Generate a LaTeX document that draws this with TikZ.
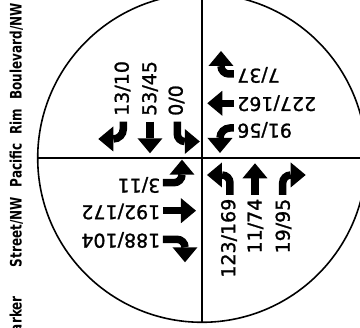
\documentclass[tikz,border=0pt]{standalone}
\usepackage{fontspec}
\setmainfont{DejaVu Sans}
\newfontfamily\volfont[FakeBold=1.2]{DejaVu Sans}
\newfontfamily\streetfont[FakeStretch=0.76]{DejaVu Sans}
\usetikzlibrary{arrows.meta}

\begin{document}
\begin{tikzpicture}[
  x=1pt, y=1pt,
  ring/.style={line width=1.6pt},
  vol/.style={font=\volfont\fontsize{19}{20}\selectfont, inner sep=0pt},
  street/.style={font=\streetfont\bfseries\fontsize{15.8}{16}\selectfont, inner sep=0pt},
  mv/.style={line width=7.5pt, -{Triangle[length=15pt, width=25pt, line width=0pt]}}
]
\path[use as bounding box, fill=white] (0,0) rectangle (360,328);
\clip (0,0) rectangle (360,328);

% intersection
\coordinate (ctr) at (202,170);
\draw[ring] (ctr) circle[radius=164.3];
\draw[ring] (ctr) ++(0,164.3) -- ++(0,-328.6);
\draw[ring] (ctr) ++(-164.3,0) -- ++(328.6,0);

% street names
\node[street, rotate=90, anchor=base east] (stname) at (21.5,325)
  {Parker\hspace{29pt}Street/NW\hspace{10pt}Pacific\hspace{9pt}Rim\hspace{9pt}Boulevard/NW};

% southbound
\node[vol, rotate=90, anchor=west] (sb1) at (122.5,212) {13/10};
\node[vol, rotate=90, anchor=west] (sb2) at (150,212) {53/45};
\node[vol, rotate=90, anchor=west] (sb3) at (176.5,212) {0/0};
\draw[mv] (123.3,206.3) -- (123.3,199) arc[start angle=0, end angle=-90, radius=10] -- ++(-15,0);
\draw[mv] (150,206.3) -- (150,174.7);
\draw[mv] (177.3,206.3) -- (177.3,194) arc[start angle=180, end angle=270, radius=7.5] -- ++(15,0);

% westbound
\node[vol, rotate=180, anchor=east] (wb1) at (237,253) {7/37};
\node[vol, rotate=180, anchor=east] (wb2) at (237,224.7) {227/162};
\node[vol, rotate=180, anchor=east] (wb3) at (237,198) {91/56};
\draw[mv] (234,254) -- (229,254) arc[start angle=-90, end angle=-180, radius=8] -- ++(0,15);
\draw[mv] (234,224.7) -- (207.3,224.7);
\draw[mv] (234,200) -- (230,200) arc[start angle=90, end angle=180, radius=10] -- ++(0,-15);

% eastbound
\node[vol, rotate=180, anchor=west] (eb1) at (160.5,143) {3/11};
\node[vol, rotate=180, anchor=west] (eb2) at (160.5,116.5) {192/172};
\node[vol, rotate=180, anchor=west] (eb3) at (160.5,88) {188/104};
\draw[mv] (163,145.3) -- (174,145.3) arc[start angle=-90, end angle=0, radius=8] -- ++(0,15);
\draw[mv] (163,117.3) -- (196,117.3);
\draw[mv] (163,88.7) -- (177,88.7) arc[start angle=90, end angle=0, radius=8] -- ++(0,-15);

% northbound
\node[vol, rotate=90, anchor=east] (nb1) at (229,129.5) {123/169};
\node[vol, rotate=90, anchor=east] (nb2) at (255.5,129.5) {11/74};
\node[vol, rotate=90, anchor=east] (nb3) at (283.5,129.5) {19/95};
\draw[mv] (230,133) -- (230,145) arc[start angle=0, end angle=90, radius=8] -- ++(-15,0);
\draw[mv] (255,133) -- (255,164.7);
\draw[mv] (282.7,133) -- (282.7,145) arc[start angle=180, end angle=90, radius=8] -- ++(15,0);
\end{tikzpicture}
\end{document}
